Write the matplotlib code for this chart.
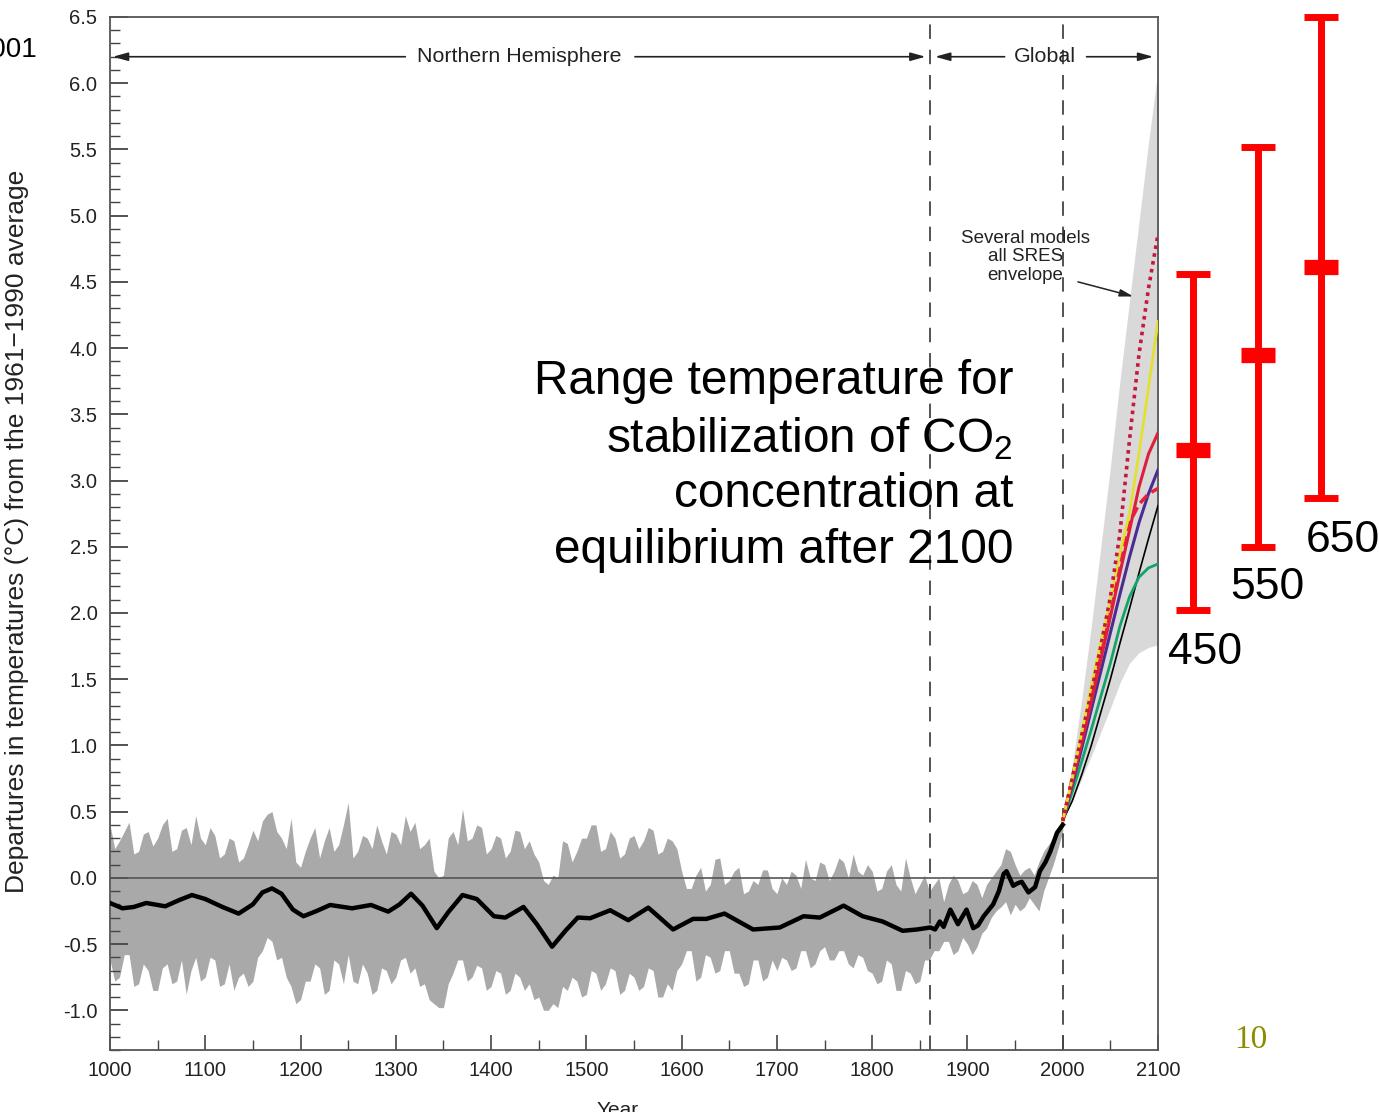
import numpy as np
import matplotlib
matplotlib.use('Agg')
import matplotlib.pyplot as plt
from matplotlib.ticker import MultipleLocator, FormatStrFormatter

plt.rcParams['font.family'] = ['Liberation Sans', 'DejaVu Sans']
plt.rcParams['mathtext.fontset'] = 'custom'
plt.rcParams['mathtext.rm'] = 'Liberation Sans'

#%% Data
# uncertainty band of the reconstruction / instrumental record (every 5 years)
band_years = np.arange(1000, 2001, 5)
band_upper = [0.40, 0.22, 0.28, 0.35, 0.42, 0.18, 0.20, 0.33, 0.35, 0.24,
              0.30, 0.40, 0.45, 0.20, 0.22, 0.36, 0.38, 0.25, 0.47, 0.30,
              0.25, 0.38, 0.32, 0.15, 0.18, 0.30, 0.28, 0.12, 0.15, 0.25,
              0.36, 0.28, 0.43, 0.48, 0.50, 0.35, 0.30, 0.22, 0.45, 0.12,
              0.08, 0.20, 0.30, 0.38, 0.15, 0.28, 0.38, 0.20, 0.25, 0.40,
              0.57, 0.15, 0.20, 0.32, 0.30, 0.22, 0.40, 0.28, 0.18, 0.35,
              0.33, 0.25, 0.47, 0.35, 0.42, 0.22, 0.25, 0.30, 0.05, 0.00,
              0.02, 0.30, 0.35, 0.25, 0.52, 0.28, 0.30, 0.40, 0.38, 0.18,
              0.22, 0.32, 0.30, 0.15, 0.20, 0.36, 0.35, 0.22, 0.28, 0.18,
              0.12, -0.02, -0.05, 0.02, 0.00, 0.28, 0.26, 0.12, 0.20, 0.30,
              0.30, 0.40, 0.40, 0.20, 0.22, 0.35, 0.30, 0.15, 0.18, 0.30,
              0.32, 0.22, 0.28, 0.38, 0.36, 0.18, 0.20, 0.30, 0.28, 0.22,
              0.05, -0.08, -0.08, 0.02, 0.08, -0.10, -0.05, 0.14, 0.15, -0.05,
              -0.02, 0.05, 0.08, -0.12, -0.10, -0.02, -0.05, 0.06, 0.06, -0.08,
              -0.12, 0.00, -0.05, 0.05, 0.02, -0.08, 0.14, 0.00, -0.02, 0.12,
              0.10, -0.02, 0.05, 0.15, 0.12, 0.00, 0.18, 0.05, 0.02, 0.10,
              0.05, -0.10, -0.08, 0.05, 0.10, -0.05, -0.10, 0.15, 0.00, -0.12,
              -0.05, 0.02, -0.10, -0.05, 0.00, -0.18, -0.05, 0.02, -0.02, -0.12,
              -0.10, -0.02, -0.05, -0.15, -0.05, 0.00, 0.05, 0.10, 0.22, 0.20,
              0.10, 0.02, 0.06, 0.08, 0.02, 0.12, 0.20, 0.25, 0.30, 0.38,
              0.45]
band_lower = [-0.62, -0.78, -0.75, -0.58, -0.58, -0.82, -0.80, -0.65, -0.70, -0.85,
              -0.85, -0.68, -0.65, -0.80, -0.78, -0.62, -0.88, -0.70, -0.60, -0.78,
              -0.75, -0.60, -0.62, -0.82, -0.80, -0.65, -0.85, -0.75, -0.72, -0.82,
              -0.78, -0.60, -0.55, -0.45, -0.48, -0.62, -0.60, -0.75, -0.82, -0.95,
              -0.92, -0.78, -0.78, -0.65, -0.68, -0.88, -0.85, -0.62, -0.65, -0.80,
              -0.58, -0.78, -0.80, -0.65, -0.72, -0.88, -0.85, -0.68, -0.70, -0.80,
              -0.75, -0.62, -0.60, -0.72, -0.68, -0.82, -0.80, -0.92, -0.95, -0.98,
              -0.98, -0.80, -0.72, -0.62, -0.62, -0.78, -0.75, -0.66, -0.68, -0.85,
              -0.82, -0.70, -0.72, -0.88, -0.85, -0.72, -0.75, -0.85, -0.80, -0.92,
              -0.90, -1.00, -1.00, -0.95, -0.98, -0.82, -0.85, -0.75, -0.78, -0.90,
              -0.88, -0.70, -0.72, -0.85, -0.80, -0.68, -0.70, -0.88, -0.85, -0.72,
              -0.75, -0.85, -0.82, -0.68, -0.70, -0.90, -0.90, -0.80, -0.85, -0.70,
              -0.65, -0.55, -0.55, -0.78, -0.75, -0.58, -0.60, -0.72, -0.70, -0.55,
              -0.55, -0.72, -0.72, -0.82, -0.80, -0.62, -0.62, -0.78, -0.75, -0.62,
              -0.70, -0.60, -0.62, -0.70, -0.68, -0.55, -0.55, -0.68, -0.65, -0.55,
              -0.52, -0.62, -0.62, -0.55, -0.55, -0.65, -0.68, -0.58, -0.60, -0.70,
              -0.72, -0.80, -0.78, -0.62, -0.65, -0.85, -0.85, -0.70, -0.72, -0.80,
              -0.78, -0.62, -0.62, -0.55, -0.55, -0.48, -0.48, -0.58, -0.55, -0.45,
              -0.50, -0.58, -0.52, -0.42, -0.38, -0.30, -0.25, -0.22, -0.18, -0.28,
              -0.20, -0.25, -0.22, -0.15, -0.20, -0.25, -0.10, 0.00, 0.10, 0.22,
              0.35]

# smoothed record (thick black line)
smooth_years = [1000, 1013, 1025, 1038, 1058, 1072, 1086, 1100, 1118, 1135,
                1150, 1160, 1170, 1180, 1192, 1203, 1217, 1231, 1254, 1274,
                1292, 1304, 1316, 1328, 1343, 1355, 1370, 1385, 1403, 1415,
                1434, 1448, 1464, 1478, 1491, 1504, 1525, 1544, 1565, 1580,
                1591, 1612, 1626, 1645, 1660, 1675, 1703, 1728, 1745, 1770,
                1790, 1811, 1832, 1847, 1861, 1866, 1871, 1875, 1882, 1890,
                1899, 1906, 1911, 1917, 1927, 1933, 1938, 1941, 1948, 1953,
                1957, 1964, 1971, 1976, 1982, 1987, 1991, 1994, 2000]
smooth_temp = [-0.19, -0.23, -0.22, -0.19, -0.215, -0.17, -0.13, -0.16, -0.22, -0.27,
               -0.20, -0.11, -0.08, -0.12, -0.24, -0.29, -0.25, -0.205, -0.23, -0.205,
               -0.255, -0.20, -0.12, -0.21, -0.38, -0.26, -0.13, -0.16, -0.29, -0.30,
               -0.22, -0.35, -0.52, -0.40, -0.30, -0.305, -0.245, -0.32, -0.225, -0.32,
               -0.39, -0.31, -0.31, -0.27, -0.33, -0.39, -0.375, -0.29, -0.30, -0.21,
               -0.29, -0.33, -0.40, -0.39, -0.375, -0.39, -0.33, -0.37, -0.24, -0.35,
               -0.24, -0.38, -0.36, -0.29, -0.20, -0.10, 0.03, 0.05, -0.06, -0.04,
               -0.03, -0.11, -0.07, 0.05, 0.12, 0.20, 0.28, 0.34, 0.40]

# SRES projections 2000-2100
proj_years = np.arange(2000, 2101, 10)
env_upper = [0.43, 0.85, 1.35, 1.90, 2.50, 3.10, 3.75, 4.35, 4.95, 5.55, 6.10]
env_lower = [0.43, 0.58, 0.75, 0.92, 1.10, 1.28, 1.47, 1.62, 1.70, 1.74, 1.76]
a1fi = [0.43, 0.75, 1.08, 1.40, 1.75, 2.12, 2.60, 3.30, 3.95, 4.45, 4.86]
a2 = [0.43, 0.75, 1.10, 1.45, 1.78, 2.10, 2.45, 2.75, 3.20, 3.70, 4.20]
a1b = [0.43, 0.72, 1.02, 1.33, 1.65, 1.97, 2.30, 2.62, 2.95, 3.20, 3.36]
b2 = [0.43, 0.70, 0.98, 1.27, 1.56, 1.85, 2.14, 2.42, 2.68, 2.90, 3.08]
is92a = [0.43, 0.75, 1.07, 1.38, 1.70, 2.05, 2.40, 2.68, 2.82, 2.90, 2.94]
a1t = [0.43, 0.58, 0.78, 1.00, 1.25, 1.50, 1.77, 2.03, 2.30, 2.56, 2.81]
b1 = [0.43, 0.65, 0.88, 1.12, 1.37, 1.62, 1.90, 2.12, 2.27, 2.34, 2.37]

# stabilisation ranges (red bars)
co2_levels = ['450', '550', '650']
stab_x = [2137, 2205, 2271]
stab_low = [2.02, 2.50, 2.87]
stab_mid = [3.23, 3.95, 4.61]
stab_high = [4.56, 5.52, 6.50]
stab_label_x = [2149, 2215, 2294]
stab_label_y = [1.70, 2.19, 2.55]

#%% Plot
fig = plt.figure(figsize=(13.79, 11.12), dpi=100)
ax = fig.add_axes([110 / 1379, 1 - 1050 / 1112, 1048 / 1379, 1033 / 1112])

ax.fill_between(proj_years, env_lower, env_upper, color='#d9d9d9', lw=0, zorder=1)
ax.fill_between(band_years, band_lower, band_upper, color='#a9a9a9', lw=0, zorder=1)
ax.axhline(0, color='#555555', lw=1.2, zorder=2)
for yr in [1861, 2000]:
    ax.axvline(yr, color='#444444', lw=1.3, ls=(0, (8, 6)), zorder=2)

ax.plot(smooth_years, smooth_temp, color='black', lw=3.2, zorder=4)

ax.plot(proj_years, a1t, color='black', lw=1.2, zorder=3)
ax.plot(proj_years, b1, color='#13a36b', lw=2.0, zorder=3)
ax.plot(proj_years, b2, color='#4b2c91', lw=2.2, zorder=3)
ax.plot(proj_years, a1b, color='#dc1f3c', lw=2.2, zorder=3)
ax.plot(proj_years, is92a, color='#e8203a', lw=2.5, ls=(0, (3, 1.5)), zorder=3)
ax.plot(proj_years, a2, color='#e3e032', lw=2.0, zorder=3)
ax.plot(proj_years, a1fi, color='#c8163c', lw=2.6, ls=(0, (1, 1.2)), zorder=3)

ax.set_xlim(1000, 2100)
ax.set_ylim(-1.3, 6.5)
ax.xaxis.set_major_locator(MultipleLocator(100))
ax.xaxis.set_minor_locator(MultipleLocator(50))
ax.yaxis.set_major_locator(MultipleLocator(0.5))
ax.yaxis.set_minor_locator(MultipleLocator(0.1))
ax.yaxis.set_major_formatter(FormatStrFormatter('%.1f'))
ax.tick_params(which='both', direction='in', color='#444444', top=False, right=False,
               labelsize=14.5, labelcolor='#222222')
ax.tick_params(axis='y', which='major', length=13, width=1.3, pad=9)
ax.tick_params(axis='y', which='minor', length=7, width=1.0)
ax.tick_params(axis='x', which='major', length=11, width=1.2, pad=8)
ax.tick_params(axis='x', which='minor', length=7, width=1.0)
for sp in ax.spines.values():
    sp.set_color('#555555')
    sp.set_linewidth(1.3)

ax.set_ylabel('Departures in temperatures (\u00b0C) from the 1961\u22121990 average',
              fontsize=19, color='#222222')
ax.yaxis.set_label_coords(-0.0775, 0.502)
fig.text(618 / 1379, 1 - 1110 / 1112, 'Year', ha='center', va='center', fontsize=15,
         color='#222222')

# region arrows
arrow_kw = dict(arrowstyle='-|>,head_length=0.9,head_width=0.25', color='#222222', lw=1.2,
                shrinkA=0, shrinkB=0)
ax.text(1430, 6.2, 'Northern Hemisphere', ha='center', va='center', fontsize=15.4,
        color='#222222')
ax.annotate('', xy=(1003, 6.2), xytext=(1310, 6.2), arrowprops=arrow_kw)
ax.annotate('', xy=(1856, 6.2), xytext=(1551, 6.2), arrowprops=arrow_kw)
ax.text(1981, 6.2, 'Global', ha='center', va='center', fontsize=15.4, color='#222222')
ax.annotate('', xy=(1866, 6.2), xytext=(1939, 6.2), arrowprops=arrow_kw)
ax.annotate('', xy=(2095, 6.2), xytext=(2025, 6.2), arrowprops=arrow_kw)

ax.text(1961, 4.69, 'Several models\nall SRES\nenvelope', ha='center', va='center',
        fontsize=13.5, color='#222222', linespacing=1.1)
ax.annotate('', xy=(2074, 4.39), xytext=(2016, 4.5),
            arrowprops=dict(arrowstyle='-|>,head_length=0.8,head_width=0.22',
                            color='#222222', lw=1.1, shrinkA=0, shrinkB=0))

# stabilisation ranges
for i, lev in enumerate(co2_levels):
    ax.errorbar(stab_x[i], stab_mid[i],
                yerr=[[stab_mid[i] - stab_low[i]], [stab_high[i] - stab_mid[i]]],
                fmt='none', ecolor='#ff0000', elinewidth=5, capsize=12, capthick=5,
                clip_on=False, zorder=5)
    ax.plot(stab_x[i], stab_mid[i], marker='_', ms=24, mew=11, color='#ff0000',
            clip_on=False, zorder=5)
    ax.text(stab_label_x[i], stab_label_y[i], lev, ha='center', va='center',
            fontsize=32, color='black', clip_on=False)

fig.text(1013 / 1379, 1 - 466 / 1112,
         'Range temperature for\nstabilization of CO$_\\mathregular{2}$\n'
         'concentration at\nequilibrium after 2100',
         ha='right', va='center', multialignment='right', fontsize=34.4, linespacing=1.3)

fig.text(37 / 1379, 1 - 50 / 1112, 'IPCC 2001', ha='right', va='center', fontsize=20)
fig.text(1251 / 1379, 1 - 1040 / 1112, '10', ha='center', va='center', fontsize=24,
         color='#8c8c00', family=['Liberation Serif', 'DejaVu Serif'])

fig.savefig('out.png', dpi=100)
